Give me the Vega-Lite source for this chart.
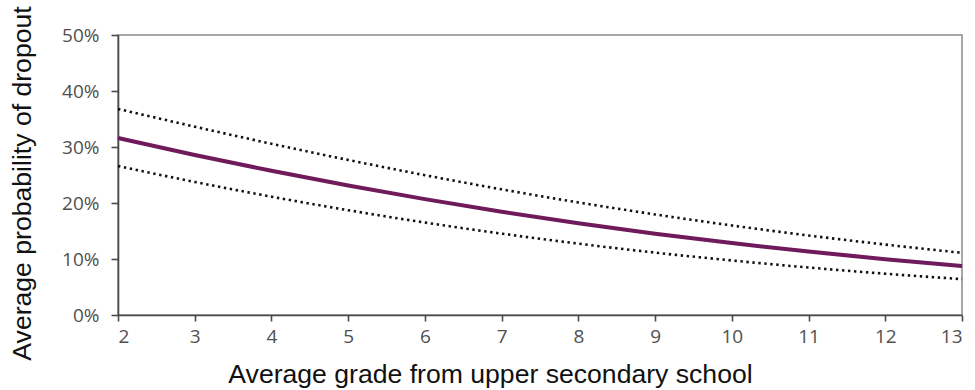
{
  "$schema": "https://vega.github.io/schema/vega-lite/v6.json",
  "width": 844,
  "height": 280,
  "autosize": "none",
  "padding": {"left": 118, "top": 35, "right": 13, "bottom": 75},
  "background": "white",
  "config": {
    "view": {"stroke": "#8a8a8a", "strokeWidth": 1.5},
    "axis": {
      "grid": false,
      "domainColor": "#4a4a4a",
      "domainWidth": 1.6,
      "tickColor": "#4a4a4a",
      "tickWidth": 1.6,
      "tickSize": 7,
      "labelFont": "Open Sans",
      "labelFontSize": 19,
      "labelColor": "#505050",
      "titleFont": "Liberation Sans",
      "titleFontSize": 26.6,
      "titleFontWeight": "normal",
      "titleColor": "#111111"
    }
  },
  "data": {
    "values": [
      {"grade": 2, "est": 0.316, "lo": 0.266, "hi": 0.368},
      {"grade": 3, "est": 0.2858, "lo": 0.2376, "hi": 0.3363},
      {"grade": 4, "est": 0.2575, "lo": 0.2113, "hi": 0.3058},
      {"grade": 5, "est": 0.2313, "lo": 0.1871, "hi": 0.2769},
      {"grade": 6, "est": 0.2069, "lo": 0.1651, "hi": 0.2497},
      {"grade": 7, "est": 0.1844, "lo": 0.1453, "hi": 0.2244},
      {"grade": 8, "est": 0.1638, "lo": 0.1274, "hi": 0.2010},
      {"grade": 9, "est": 0.1452, "lo": 0.1114, "hi": 0.1796},
      {"grade": 10, "est": 0.1284, "lo": 0.0974, "hi": 0.1599},
      {"grade": 11, "est": 0.1133, "lo": 0.0848, "hi": 0.1420},
      {"grade": 12, "est": 0.0997, "lo": 0.0737, "hi": 0.1258},
      {"grade": 13, "est": 0.0876, "lo": 0.0640, "hi": 0.1110}
    ]
  },
  "encoding": {
    "x": {
      "field": "grade",
      "type": "quantitative",
      "scale": {"domain": [2, 13], "nice": false},
      "axis": {
        "values": [2, 3, 4, 5, 6, 7, 8, 9, 10, 11, 12, 13],
        "title": "Average grade from upper secondary school",
        "tickSize": 6,
        "labelPadding": 6,
        "titleX": 372,
        "titleY": 67,
        "titleBaseline": "alphabetic"
      }
    }
  },
  "layer": [
    {
      "mark": {"type": "line", "interpolate": "monotone", "color": "#111111", "strokeWidth": 2.6, "strokeDash": [2.4, 3.6]},
      "encoding": {
        "y": {
          "field": "hi",
          "type": "quantitative",
          "scale": {"domain": [0, 0.5], "nice": false},
          "axis": {
            "values": [0, 0.1, 0.2, 0.3, 0.4, 0.5],
            "format": ".0%",
            "title": "Average probability of dropout",
            "labelPadding": 12,
            "titlePadding": 25,
            "titleY": 148
          }
        }
      }
    },
    {
      "mark": {"type": "line", "interpolate": "monotone", "color": "#111111", "strokeWidth": 2.6, "strokeDash": [2.4, 3.6]},
      "encoding": {"y": {"field": "lo", "type": "quantitative"}}
    },
    {
      "mark": {"type": "line", "interpolate": "monotone", "color": "#6f1a5b", "strokeWidth": 4},
      "encoding": {"y": {"field": "est", "type": "quantitative"}}
    }
  ]
}
